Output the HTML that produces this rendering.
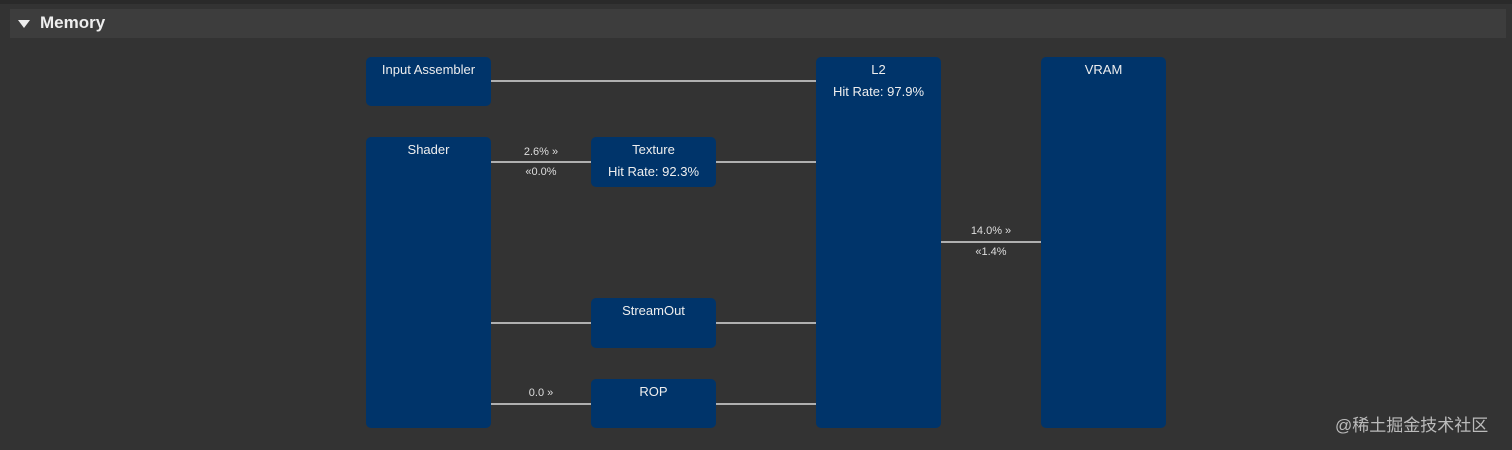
<!DOCTYPE html>
<html><head><style>
body{margin:0;width:1512px;height:450px;background:#333;position:relative;overflow:hidden;font-family:"Liberation Sans","Noto Sans CJK SC",sans-serif;color:#e8e8e8}
.top{position:absolute;left:0;top:0;width:1512px;height:4px;background:#2a2a2a}
.hdr{position:absolute;left:10px;top:9px;width:1496px;height:29px;background:#3d3d3d}
.hdr span{position:absolute;left:30px;top:4px;font-size:17px;font-weight:bold;color:#eee}
.tri{position:absolute;left:8px;top:11px;width:0;height:0;border-left:6px solid transparent;border-right:6px solid transparent;border-top:8px solid #eee}
.b{position:absolute;background:#00346a;border-radius:5px;font-size:13px;text-align:center;color:#eee}
.b div{margin-top:5px}
.l{position:absolute;height:2px;background:#b0b0b0}
.t{position:absolute;font-size:11px;color:#ddd;text-align:center;width:80px}
.wm{position:absolute;left:1335px;top:411px;font-size:17px;color:#bbb}
</style></head><body>
<div class="top"></div>
<div class="hdr"><div class="tri"></div><span>Memory</span></div>

<div class="b" style="left:366px;top:57px;width:125px;height:49px"><div>Input Assembler</div></div>
<div class="b" style="left:366px;top:137px;width:125px;height:291px"><div>Shader</div></div>
<div class="b" style="left:591px;top:137px;width:125px;height:50px"><div>Texture</div><div style="margin-top:7px">Hit Rate: 92.3%</div></div>
<div class="b" style="left:591px;top:298px;width:125px;height:50px"><div>StreamOut</div></div>
<div class="b" style="left:591px;top:379px;width:125px;height:49px"><div>ROP</div></div>
<div class="b" style="left:816px;top:57px;width:125px;height:371px"><div>L2</div><div style="margin-top:7px">Hit Rate: 97.9%</div></div>
<div class="b" style="left:1041px;top:57px;width:125px;height:371px"><div>VRAM</div></div>

<div class="l" style="left:491px;top:80px;width:325px"></div>
<div class="l" style="left:491px;top:161px;width:100px"></div>
<div class="l" style="left:716px;top:161px;width:100px"></div>
<div class="l" style="left:491px;top:322px;width:100px"></div>
<div class="l" style="left:716px;top:322px;width:100px"></div>
<div class="l" style="left:491px;top:403px;width:100px"></div>
<div class="l" style="left:716px;top:403px;width:100px"></div>
<div class="l" style="left:941px;top:241px;width:100px"></div>

<div class="t" style="left:501px;top:146px">2.6% »</div>
<div class="t" style="left:501px;top:166px">«0.0%</div>
<div class="t" style="left:501px;top:387px">0.0 »</div>
<div class="t" style="left:951px;top:225px">14.0% »</div>
<div class="t" style="left:951px;top:246px">«1.4%</div>
<div class="wm">@稀土掘金技术社区</div>
</body></html>
